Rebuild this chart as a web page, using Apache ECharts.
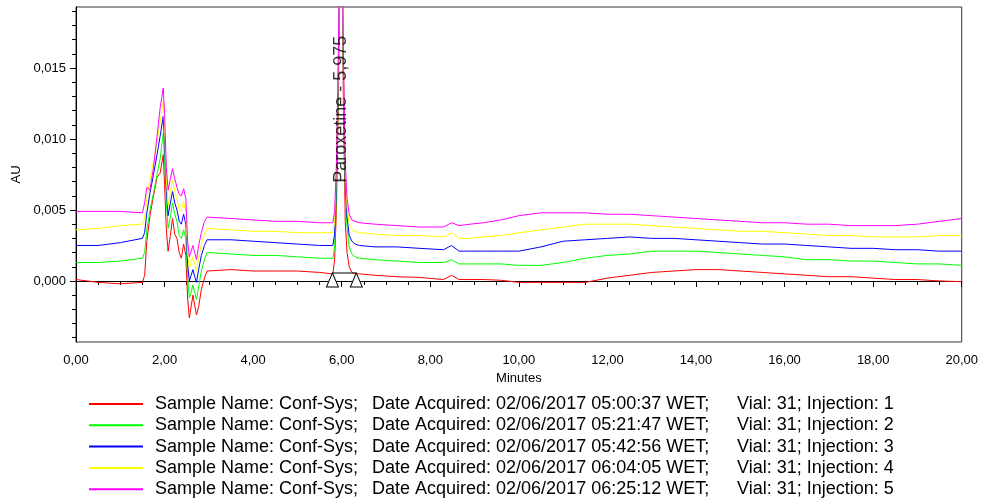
<!DOCTYPE html>
<html>
<head>
<meta charset="utf-8">
<script src="https://cdn.jsdelivr.net/npm/echarts@6/dist/echarts.min.js"></script>
<style>
  html, body { margin: 0; padding: 0; background: #fff; }
  #chart { width: 981px; height: 502px; }
</style>
</head>
<body>
<div id="chart"></div>
<script>
// Retention time axis (minutes), shared by all five injections
const minutes = [
  0, 0.5, 1.0, 1.5,
  1.55, 1.6, 1.67, 1.75, 1.83, 1.9, 1.97,
  2.0, 2.04, 2.08, 2.13, 2.18, 2.23, 2.28, 2.33, 2.38, 2.43, 2.48,
  2.52, 2.56, 2.6, 2.64, 2.68, 2.72, 2.77, 2.83, 2.9, 2.96,
  3.0, 3.5, 4.0, 4.5, 5.0, 5.5, 5.8,
  5.84, 5.88, 5.92, 5.96, 6.0, 6.04, 6.08, 6.12, 6.17, 6.23, 6.3, 6.4,
  6.75, 7.25, 7.75, 8.3, 8.48, 8.65, 8.9, 9.2, 9.6,
  10.0, 10.5, 11.0, 11.5, 12.0, 12.5, 13.0, 13.5, 14.0, 14.5, 15.0,
  15.5, 16.0, 16.5, 17.0, 17.5, 18.0, 18.5, 19.0, 19.5, 20.0
];

// Detector response (AU) per injection
const injection1 = [
  0.0001, -0.0001, -0.0002, -0.0001,
  0.0004, 0.0028, 0.0046, 0.0060, 0.0073, 0.0076, 0.0089,
  0.0068, 0.0036, 0.0021, 0.0032, 0.0044, 0.0033, 0.0030, 0.0020, 0.0016, 0.0026, 0.0018,
  -0.0012, -0.0026, -0.0018, -0.0010, -0.0017, -0.0024, -0.0018, -0.0006, 0.0002, 0.0007,
  0.0008, 0.0008, 0.0007, 0.0007, 0.0007, 0.0006, 0.0005,
  0.0015, 0.0050, 0.0120, 0.0230, 0.0240, 0.0120, 0.0042, 0.0020, 0.0010, 0.0006, 0.0005, 0.0005,
  0.0004, 0.0003, 0.00025, 0.0001, 0.0004, 0.0001, 0.0001, 0.0001, 0.00005,
  -0.0001, -0.0001, -0.0001, -0.0001, 0.0002, 0.0004, 0.0006, 0.0007, 0.0008, 0.0008, 0.0007,
  0.0006, 0.0005, 0.0004, 0.0003, 0.0003, 0.0002, 0.0001, 0.0001, 0.0000, -0.00005
];
const injection2 = [
  0.0013, 0.0013, 0.0014, 0.0016,
  0.0020, 0.0036, 0.0050, 0.0062, 0.0075, 0.0086, 0.0104,
  0.0085, 0.0055, 0.0037, 0.0045, 0.0055, 0.0047, 0.0042, 0.0032, 0.0030, 0.0036, 0.0030,
  0.0002, -0.0012, -0.0008, -0.0003, -0.0008, -0.0013, -0.0004, 0.0007, 0.0015, 0.0020,
  0.0020, 0.0019, 0.0018, 0.0018, 0.0017, 0.0016, 0.0016,
  0.0024, 0.0060, 0.0135, 0.0240, 0.0250, 0.0140, 0.0065, 0.0038, 0.0024, 0.0019, 0.0017, 0.0016,
  0.0015, 0.0014, 0.0013, 0.0013, 0.0015, 0.0012, 0.0012, 0.0012, 0.0012,
  0.0011, 0.0011, 0.0013, 0.0016, 0.0018, 0.0019, 0.0021, 0.0021, 0.0021, 0.0020, 0.0019,
  0.0018, 0.0017, 0.0015, 0.0015, 0.0014, 0.0014, 0.0013, 0.0012, 0.0012, 0.0011
];
const injection3 = [
  0.0025, 0.0025, 0.0027, 0.0030,
  0.0034, 0.0048, 0.0062, 0.0075, 0.0089, 0.0102, 0.0116,
  0.0098, 0.0065, 0.0046, 0.0055, 0.0063, 0.0055, 0.0050, 0.0042, 0.0040, 0.0047, 0.0040,
  0.0012, 0.0000, 0.0004, 0.0008, 0.0003, -0.0001, 0.0008, 0.0018, 0.0025, 0.0029,
  0.0030, 0.0029, 0.0028, 0.0027, 0.0026, 0.0025, 0.0025,
  0.0033, 0.0068, 0.0140, 0.0245, 0.0255, 0.0145, 0.0072, 0.0045, 0.0032, 0.0028, 0.0026, 0.0025,
  0.0024, 0.0024, 0.0023, 0.0022, 0.0025, 0.0021, 0.0021, 0.0021, 0.0021,
  0.0021, 0.0024, 0.0028, 0.0029, 0.0030, 0.0031, 0.0030, 0.0030, 0.0029, 0.0028, 0.0027,
  0.0026, 0.0026, 0.0025, 0.0024, 0.0023, 0.0023, 0.0022, 0.0022, 0.0021, 0.0021
];
const injection4 = [
  0.0036, 0.0037, 0.0039, 0.0040,
  0.0044, 0.0058, 0.0072, 0.0084, 0.0098, 0.0112, 0.0126,
  0.0108, 0.0072, 0.0053, 0.0063, 0.0071, 0.0063, 0.0058, 0.0050, 0.0049, 0.0056, 0.0049,
  0.0020, 0.0009, 0.0013, 0.0017, 0.0012, 0.0007, 0.0016, 0.0026, 0.0033, 0.0037,
  0.0037, 0.0036, 0.0035, 0.0035, 0.0034, 0.0034, 0.0034,
  0.0042, 0.0076, 0.0145, 0.0250, 0.0260, 0.0150, 0.0078, 0.0052, 0.0040, 0.0036, 0.0035, 0.0034,
  0.0033, 0.0032, 0.0032, 0.0031, 0.0034, 0.0030, 0.0030, 0.0031, 0.0032,
  0.0034, 0.0036, 0.0038, 0.0040, 0.0040, 0.0040, 0.0039, 0.0038, 0.0037, 0.0036, 0.0035,
  0.0035, 0.0034, 0.0033, 0.0032, 0.0032, 0.0031, 0.0031, 0.0031, 0.0032, 0.0032
];
const injection5 = [
  0.0049, 0.0049, 0.0049, 0.0048,
  0.0055, 0.0066, 0.0064, 0.0080, 0.0102, 0.0122, 0.0136,
  0.0118, 0.0080, 0.0064, 0.0072, 0.0079, 0.0072, 0.0066, 0.0061, 0.0060, 0.0065, 0.0058,
  0.0028, 0.0017, 0.0021, 0.0025, 0.0020, 0.0015, 0.0025, 0.0034, 0.0042, 0.0045,
  0.0046, 0.0044, 0.0043, 0.0042, 0.0042, 0.0041, 0.0041,
  0.0049, 0.0082, 0.0150, 0.0255, 0.0265, 0.0155, 0.0083, 0.0058, 0.0047, 0.0043, 0.0042, 0.0041,
  0.0040, 0.0039, 0.0038, 0.0038, 0.0041, 0.0039, 0.0040, 0.0041, 0.0043,
  0.0046, 0.0048, 0.0048, 0.0048, 0.0047, 0.0047, 0.0046, 0.0045, 0.0044, 0.0043, 0.0042,
  0.0041, 0.0041, 0.0040, 0.0040, 0.0039, 0.0039, 0.0039, 0.0040, 0.0042, 0.0044
];
const injectionTraces = [injection1, injection2, injection3, injection4, injection5];

// Run information
const sampleName = 'Conf-Sys';
const acquiredAt = [
  '02/06/2017 05:00:37', '02/06/2017 05:21:47', '02/06/2017 05:42:56',
  '02/06/2017 06:04:05', '02/06/2017 06:25:12'
];
const vialNumber = 31;
const injectionNumbers = [1, 2, 3, 4, 5];
const traceColors = ['#ff0000', '#00ff00', '#0000ff', '#ffff00', '#ff00ff'];

// Integrated peak
const peakName = 'Paroxetine';
const peakRetention = 5.975;
const peakLabelLevel = 0.0121;
const peakStartEnd = [5.79, 6.33];
const peakBaselineLevel = 0.00056;

// Axis ticks
const yLabelTicks = [0, 0.005, 0.010, 0.015];
const yMinorTicks = [-0.004, -0.003, -0.002, -0.001, 0, 0.001, 0.002, 0.003, 0.004, 0.005,
  0.006, 0.007, 0.008, 0.009, 0.010, 0.011, 0.012, 0.013, 0.014, 0.015, 0.016, 0.017, 0.018, 0.019];

const FONT = 'Liberation Sans, Arial, sans-serif';
const comma = (v, d) => v.toFixed(d).replace('.', ',');

const legendNames = injectionNumbers.map((n, i) =>
  'Sample Name: ' + sampleName + ';|Date Acquired: ' + acquiredAt[i] + ' WET;|Vial: ' + vialNumber + '; Injection: ' + n);

const traceSeries = injectionTraces.map((vals, i) => ({
  name: legendNames[i],
  type: 'line',
  data: minutes.map((t, k) => [t, vals[k]]),
  showSymbol: false,
  symbol: 'none',
  clip: true,
  yAxisIndex: 0,
  lineStyle: { color: traceColors[i], width: 1 },
  itemStyle: { color: traceColors[i] },
  z: 2 + i
}));

const chart = echarts.init(document.getElementById('chart'), null, { renderer: 'canvas' });
const yRange = { min: -0.0043, max: 0.0193 };

chart.setOption({
  animation: false,
  backgroundColor: '#ffffff',
  textStyle: { fontFamily: FONT },
  grid: {
    left: 76, right: 19, top: 7, bottom: 160,
    show: true, borderColor: '#333', borderWidth: 1, backgroundColor: 'transparent'
  },
  legend: {
    orient: 'vertical',
    left: 89, top: 395,
    height: 107,
    padding: 0,
    itemWidth: 54, itemHeight: 2,
    itemGap: 3.3,
    icon: 'rect',
    selectedMode: false,
    data: legendNames.map((n, i) => ({ name: n, itemStyle: { color: traceColors[i] } })),
    formatter: name => {
      const parts = name.split('|');
      return '{a|' + parts[0] + '}{b|' + parts[1] + '}{c|' + parts[2] + '}';
    },
    textStyle: {
      fontFamily: FONT, fontSize: 18, color: '#000', lineHeight: 18,
      rich: {
        a: { fontFamily: FONT, fontSize: 18, width: 217, padding: [0, 0, 0, 7] },
        b: { fontFamily: FONT, fontSize: 18, width: 365 },
        c: { fontFamily: FONT, fontSize: 18 }
      }
    }
  },
  xAxis: {
    type: 'value',
    min: 0, max: 20, interval: 2,
    name: 'Minutes',
    nameLocation: 'middle',
    nameGap: 29,
    nameTextStyle: { fontFamily: FONT, fontSize: 13, color: '#000' },
    axisLine: { show: true, lineStyle: { color: '#000', width: 1 } },
    axisTick: { show: true, length: 6, lineStyle: { color: '#000' } },
    minorTick: { show: true, splitNumber: 4, length: 4, lineStyle: { color: '#000' } },
    splitLine: { show: false },
    axisLabel: {
      margin: 12, fontFamily: FONT, fontSize: 13, color: '#000',
      formatter: v => comma(v, 2)
    }
  },
  yAxis: [
    {
      type: 'value',
      min: yRange.min, max: yRange.max,
      name: 'AU',
      nameLocation: 'middle',
      nameGap: 51,
      nameRotate: 90,
      nameTextStyle: { fontFamily: FONT, fontSize: 13, color: '#000' },
      axisLine: { show: true, lineStyle: { color: '#000', width: 1 } },
      axisTick: { show: true, length: 4, customValues: yMinorTicks, lineStyle: { color: '#000' } },
      splitLine: { show: false },
      axisLabel: {
        customValues: yLabelTicks, margin: 10,
        fontFamily: FONT, fontSize: 13, color: '#000',
        formatter: v => comma(v, 3)
      }
    },
    {
      type: 'value',
      position: 'left',
      offset: 0,
      min: yRange.min, max: yRange.max,
      axisLine: { show: false },
      axisTick: { show: true, length: 6, customValues: yLabelTicks, lineStyle: { color: '#000' } },
      axisLabel: { show: false },
      splitLine: { show: false }
    }
  ],
  series: traceSeries.concat([
    {
      name: 'baseline',
      type: 'line',
      data: peakStartEnd.map(t => [t, peakBaselineLevel]),
      symbol: 'triangle',
      symbolSize: [12, 14],
      symbolOffset: [0, 7],
      showSymbol: true,
      lineStyle: { color: '#000', width: 1 },
      itemStyle: { color: '#fff', borderColor: '#000', borderWidth: 1 },
      z: 10,
      silent: true
    },
    {
      name: 'peak-label',
      type: 'scatter',
      data: [[peakRetention, peakLabelLevel]],
      symbolSize: 0,
      z: 11,
      silent: true,
      label: {
        show: true,
        position: 'inside',
        rotate: 90,
        align: 'center',
        verticalAlign: 'middle',
        fontFamily: FONT,
        fontSize: 18,
        color: '#000',
        formatter: () => peakName + ' - ' + comma(peakRetention, 3)
      }
    }
  ])
});
</script>
</body>
</html>
